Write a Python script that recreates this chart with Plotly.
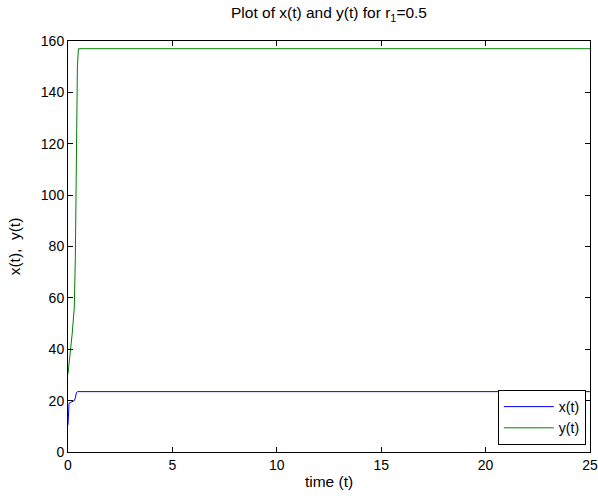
import plotly.graph_objects as go

# Data
t_x = [0, 0.02, 0.05, 0.1, 0.2, 0.3, 0.35, 0.4, 0.45, 0.5, 25]
x_vals = [10.5, 17, 19, 19.2, 19.5, 20, 21, 23, 23.5, 23.5, 23.5]

t_y = [0, 0.05, 0.1, 0.15, 0.2, 0.25, 0.3, 0.35, 0.4, 0.45, 0.5, 25]
y_vals = [30.5, 34, 38, 42, 46, 51, 56, 75, 110, 150, 157, 157]

x_ticks = [0, 5, 10, 15, 20, 25]
y_ticks = [0, 20, 40, 60, 80, 100, 120, 140, 160]

FONT = "Liberation Sans, Arial, sans-serif"

fig = go.Figure()
fig.add_trace(go.Scatter(x=t_x, y=x_vals, mode="lines", name="x(t)",
                         line=dict(color="#0000ff", width=1)))
fig.add_trace(go.Scatter(x=t_y, y=y_vals, mode="lines", name="y(t)",
                         line=dict(color="#008000", width=1)))

axis_common = dict(showline=True, linecolor="black", linewidth=1, mirror="ticks",
                   ticks="inside", ticklen=5, tickcolor="black", showgrid=False,
                   zeroline=False, automargin=False,
                   tickfont=dict(family=FONT, size=14, color="black"))

fig.update_xaxes(range=[0, 25], tickvals=x_ticks,
                 title=dict(text="time (t)", font=dict(family=FONT, size=15.5, color="black"), standoff=4),
                 **axis_common)
fig.update_yaxes(range=[0, 160], tickvals=y_ticks,
                 title=dict(text="x(t),  y(t)", font=dict(family=FONT, size=15.5, color="black"), standoff=16),
                 **axis_common)

fig.update_layout(
    width=598, height=501,
    margin=dict(l=68, r=8, t=41, b=49),
    paper_bgcolor="white", plot_bgcolor="white",
    title=dict(text="Plot of x(t) and y(t) for r<sub>1</sub>=0.5",
               font=dict(family=FONT, size=15.5, color="black"),
               x=(68 + 590) / 2 / 598, xanchor="center",
               y=1 - 13 / 501, yanchor="middle", yref="container"),
    legend=dict(x=0.992, xanchor="right", y=0.017, yanchor="bottom",
                bgcolor="white", bordercolor="black", borderwidth=1,
                font=dict(family=FONT, size=14, color="black"),
                itemwidth=50, tracegroupgap=0),
    showlegend=True,
)

fig.write_html("out.html")
